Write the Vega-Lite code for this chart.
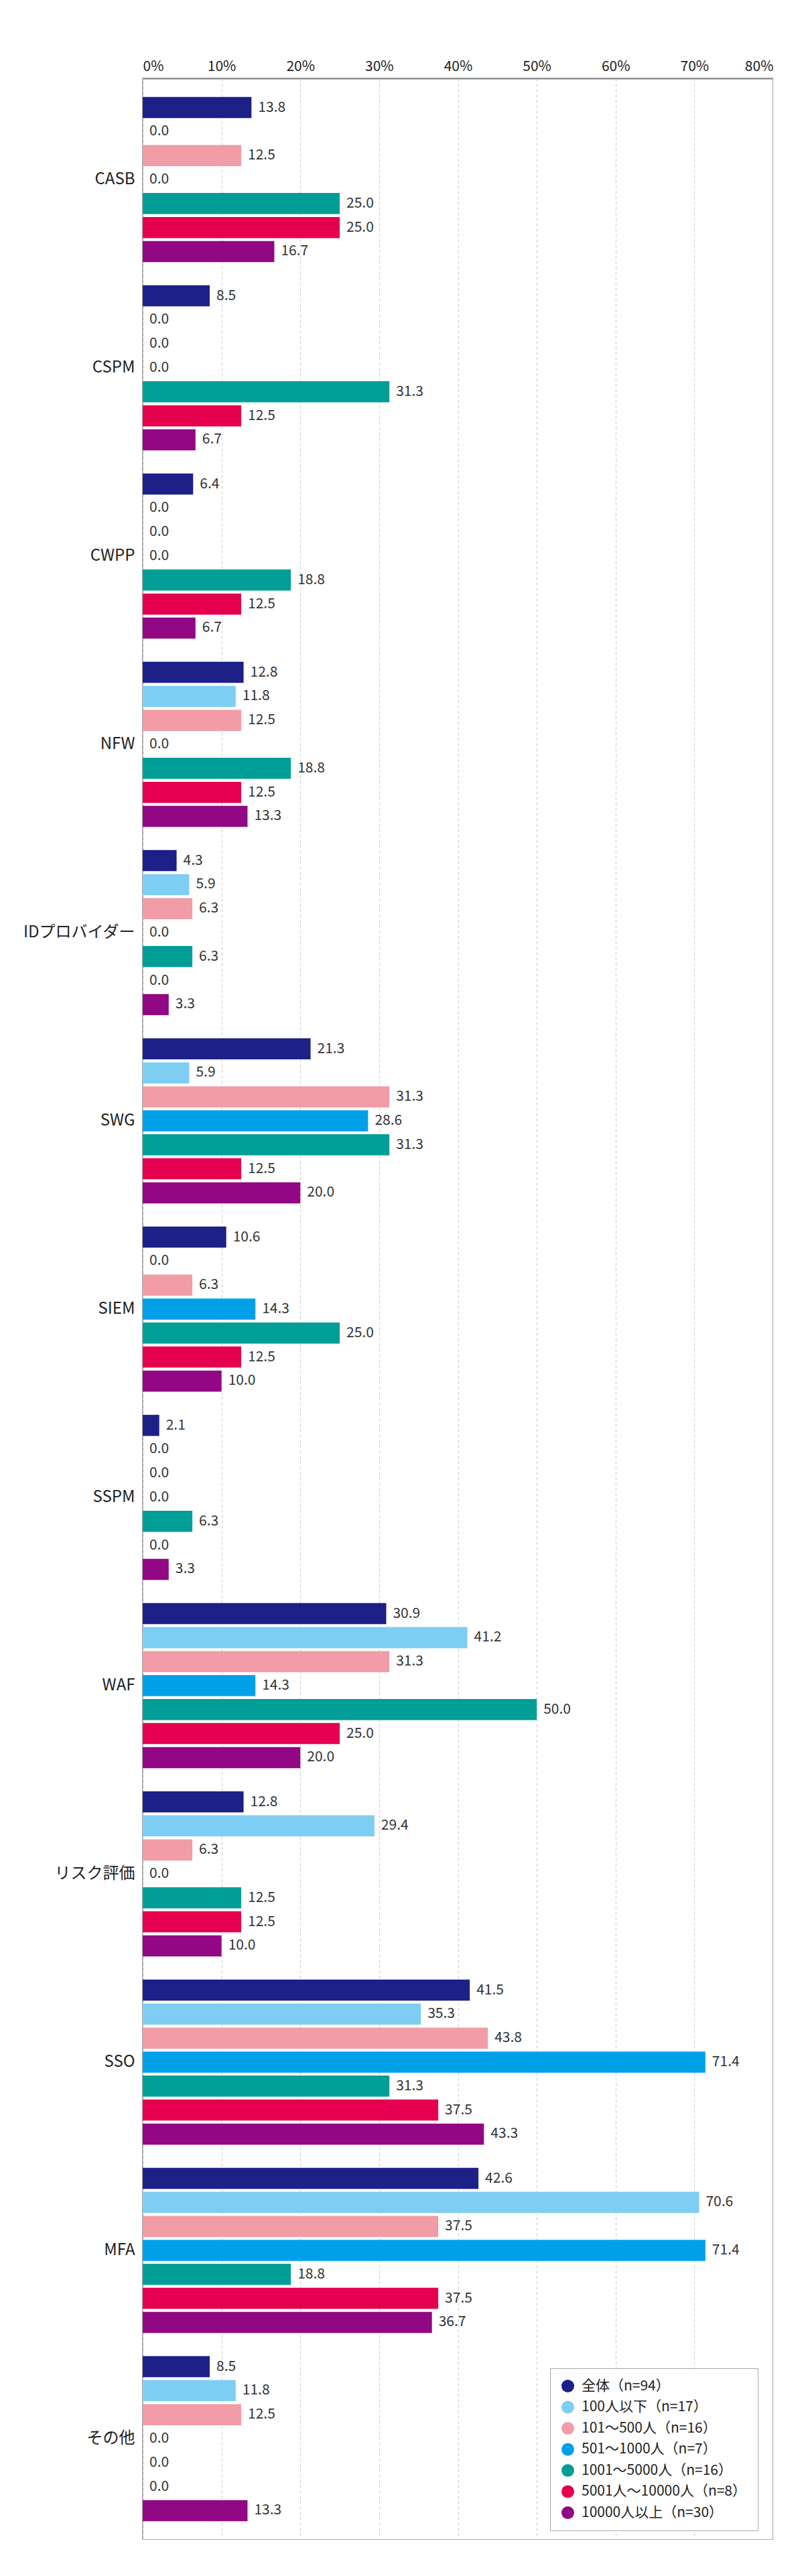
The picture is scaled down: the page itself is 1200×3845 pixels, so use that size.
{
  "$schema": "https://vega.github.io/schema/vega-lite/v6.json",
  "background": "white",
  "autosize": {"type": "none"},
  "padding": {"left": 213, "top": 117, "right": 0, "bottom": 0},
  "width": 941,
  "height": 3674,
  "config": {
    "font": "Noto Sans CJK JP",
    "view": {"stroke": "#8a8a8a", "strokeWidth": 1.5}
  },
  "data": {"values": [
    {"item": "CASB", "group": "全体（n=94）", "pct": 13.8},
    {"item": "CASB", "group": "100人以下（n=17）", "pct": 0.0},
    {"item": "CASB", "group": "101～500人（n=16）", "pct": 12.5},
    {"item": "CASB", "group": "501～1000人（n=7）", "pct": 0.0},
    {"item": "CASB", "group": "1001～5000人（n=16）", "pct": 25.0},
    {"item": "CASB", "group": "5001人～10000人（n=8）", "pct": 25.0},
    {"item": "CASB", "group": "10000人以上（n=30）", "pct": 16.7},
    {"item": "CSPM", "group": "全体（n=94）", "pct": 8.5},
    {"item": "CSPM", "group": "100人以下（n=17）", "pct": 0.0},
    {"item": "CSPM", "group": "101～500人（n=16）", "pct": 0.0},
    {"item": "CSPM", "group": "501～1000人（n=7）", "pct": 0.0},
    {"item": "CSPM", "group": "1001～5000人（n=16）", "pct": 31.3},
    {"item": "CSPM", "group": "5001人～10000人（n=8）", "pct": 12.5},
    {"item": "CSPM", "group": "10000人以上（n=30）", "pct": 6.7},
    {"item": "CWPP", "group": "全体（n=94）", "pct": 6.4},
    {"item": "CWPP", "group": "100人以下（n=17）", "pct": 0.0},
    {"item": "CWPP", "group": "101～500人（n=16）", "pct": 0.0},
    {"item": "CWPP", "group": "501～1000人（n=7）", "pct": 0.0},
    {"item": "CWPP", "group": "1001～5000人（n=16）", "pct": 18.8},
    {"item": "CWPP", "group": "5001人～10000人（n=8）", "pct": 12.5},
    {"item": "CWPP", "group": "10000人以上（n=30）", "pct": 6.7},
    {"item": "NFW", "group": "全体（n=94）", "pct": 12.8},
    {"item": "NFW", "group": "100人以下（n=17）", "pct": 11.8},
    {"item": "NFW", "group": "101～500人（n=16）", "pct": 12.5},
    {"item": "NFW", "group": "501～1000人（n=7）", "pct": 0.0},
    {"item": "NFW", "group": "1001～5000人（n=16）", "pct": 18.8},
    {"item": "NFW", "group": "5001人～10000人（n=8）", "pct": 12.5},
    {"item": "NFW", "group": "10000人以上（n=30）", "pct": 13.3},
    {"item": "IDプロバイダー", "group": "全体（n=94）", "pct": 4.3},
    {"item": "IDプロバイダー", "group": "100人以下（n=17）", "pct": 5.9},
    {"item": "IDプロバイダー", "group": "101～500人（n=16）", "pct": 6.3},
    {"item": "IDプロバイダー", "group": "501～1000人（n=7）", "pct": 0.0},
    {"item": "IDプロバイダー", "group": "1001～5000人（n=16）", "pct": 6.3},
    {"item": "IDプロバイダー", "group": "5001人～10000人（n=8）", "pct": 0.0},
    {"item": "IDプロバイダー", "group": "10000人以上（n=30）", "pct": 3.3},
    {"item": "SWG", "group": "全体（n=94）", "pct": 21.3},
    {"item": "SWG", "group": "100人以下（n=17）", "pct": 5.9},
    {"item": "SWG", "group": "101～500人（n=16）", "pct": 31.3},
    {"item": "SWG", "group": "501～1000人（n=7）", "pct": 28.6},
    {"item": "SWG", "group": "1001～5000人（n=16）", "pct": 31.3},
    {"item": "SWG", "group": "5001人～10000人（n=8）", "pct": 12.5},
    {"item": "SWG", "group": "10000人以上（n=30）", "pct": 20.0},
    {"item": "SIEM", "group": "全体（n=94）", "pct": 10.6},
    {"item": "SIEM", "group": "100人以下（n=17）", "pct": 0.0},
    {"item": "SIEM", "group": "101～500人（n=16）", "pct": 6.3},
    {"item": "SIEM", "group": "501～1000人（n=7）", "pct": 14.3},
    {"item": "SIEM", "group": "1001～5000人（n=16）", "pct": 25.0},
    {"item": "SIEM", "group": "5001人～10000人（n=8）", "pct": 12.5},
    {"item": "SIEM", "group": "10000人以上（n=30）", "pct": 10.0},
    {"item": "SSPM", "group": "全体（n=94）", "pct": 2.1},
    {"item": "SSPM", "group": "100人以下（n=17）", "pct": 0.0},
    {"item": "SSPM", "group": "101～500人（n=16）", "pct": 0.0},
    {"item": "SSPM", "group": "501～1000人（n=7）", "pct": 0.0},
    {"item": "SSPM", "group": "1001～5000人（n=16）", "pct": 6.3},
    {"item": "SSPM", "group": "5001人～10000人（n=8）", "pct": 0.0},
    {"item": "SSPM", "group": "10000人以上（n=30）", "pct": 3.3},
    {"item": "WAF", "group": "全体（n=94）", "pct": 30.9},
    {"item": "WAF", "group": "100人以下（n=17）", "pct": 41.2},
    {"item": "WAF", "group": "101～500人（n=16）", "pct": 31.3},
    {"item": "WAF", "group": "501～1000人（n=7）", "pct": 14.3},
    {"item": "WAF", "group": "1001～5000人（n=16）", "pct": 50.0},
    {"item": "WAF", "group": "5001人～10000人（n=8）", "pct": 25.0},
    {"item": "WAF", "group": "10000人以上（n=30）", "pct": 20.0},
    {"item": "リスク評価", "group": "全体（n=94）", "pct": 12.8},
    {"item": "リスク評価", "group": "100人以下（n=17）", "pct": 29.4},
    {"item": "リスク評価", "group": "101～500人（n=16）", "pct": 6.3},
    {"item": "リスク評価", "group": "501～1000人（n=7）", "pct": 0.0},
    {"item": "リスク評価", "group": "1001～5000人（n=16）", "pct": 12.5},
    {"item": "リスク評価", "group": "5001人～10000人（n=8）", "pct": 12.5},
    {"item": "リスク評価", "group": "10000人以上（n=30）", "pct": 10.0},
    {"item": "SSO", "group": "全体（n=94）", "pct": 41.5},
    {"item": "SSO", "group": "100人以下（n=17）", "pct": 35.3},
    {"item": "SSO", "group": "101～500人（n=16）", "pct": 43.8},
    {"item": "SSO", "group": "501～1000人（n=7）", "pct": 71.4},
    {"item": "SSO", "group": "1001～5000人（n=16）", "pct": 31.3},
    {"item": "SSO", "group": "5001人～10000人（n=8）", "pct": 37.5},
    {"item": "SSO", "group": "10000人以上（n=30）", "pct": 43.3},
    {"item": "MFA", "group": "全体（n=94）", "pct": 42.6},
    {"item": "MFA", "group": "100人以下（n=17）", "pct": 70.6},
    {"item": "MFA", "group": "101～500人（n=16）", "pct": 37.5},
    {"item": "MFA", "group": "501～1000人（n=7）", "pct": 71.4},
    {"item": "MFA", "group": "1001～5000人（n=16）", "pct": 18.8},
    {"item": "MFA", "group": "5001人～10000人（n=8）", "pct": 37.5},
    {"item": "MFA", "group": "10000人以上（n=30）", "pct": 36.7},
    {"item": "その他", "group": "全体（n=94）", "pct": 8.5},
    {"item": "その他", "group": "100人以下（n=17）", "pct": 11.8},
    {"item": "その他", "group": "101～500人（n=16）", "pct": 12.5},
    {"item": "その他", "group": "501～1000人（n=7）", "pct": 0.0},
    {"item": "その他", "group": "1001～5000人（n=16）", "pct": 0.0},
    {"item": "その他", "group": "5001人～10000人（n=8）", "pct": 0.0},
    {"item": "その他", "group": "10000人以上（n=30）", "pct": 13.3}
  ]},
  "encoding": {
    "y": {"field": "item", "type": "nominal", "sort": null,
          "scale": {"paddingInner": 0.108, "paddingOuter": 0.0915},
          "axis": {"title": null, "ticks": false, "domain": false,
                   "labelFontSize": 24, "labelFontWeight": 400, "labelColor": "#222", "labelPadding": 12}},
    "yOffset": {"field": "group", "type": "nominal",
                "sort": ["全体（n=94）", "100人以下（n=17）", "101～500人（n=16）", "501～1000人（n=7）", "1001～5000人（n=16）", "5001人～10000人（n=8）", "10000人以上（n=30）"],
                "scale": {"paddingInner": 0.12, "paddingOuter": 0.06}},
    "x": {"field": "pct", "type": "quantitative",
          "scale": {"domain": [0, 80], "nice": false},
          "axis": {"orient": "top", "title": null, "values": [0, 10, 20, 30, 40, 50, 60, 70, 80],
                   "labelExpr": "datum.value + '%'", "ticks": false,
                   "labelFontSize": 21, "labelFontWeight": 400, "labelColor": "#222", "labelPadding": 8,
                   "domainColor": "#8a8a8a", "domainWidth": 2,
                   "grid": true, "gridColor": "#c8c8c8", "gridDash": [4, 4], "gridWidth": 1}}
  },
  "layer": [
    {
      "mark": {"type": "bar"},
      "encoding": {
        "color": {"field": "group", "type": "nominal",
                  "scale": {
                    "domain": ["全体（n=94）", "100人以下（n=17）", "101～500人（n=16）", "501～1000人（n=7）", "1001～5000人（n=16）", "5001人～10000人（n=8）", "10000人以上（n=30）"],
                    "range": ["#1d2087", "#7ecef4", "#f19ca7", "#00a0e9", "#009e96", "#e4004f", "#920783"]},
                  "legend": {"title": null, "orient": "none", "legendX": 608, "legendY": 3418,
                             "symbolType": "circle", "symbolSize": 361, "symbolStrokeWidth": 0, "symbolOpacity": 1,
                             "labelFontSize": 21, "labelFontWeight": 400, "labelColor": "#222", "labelLimit": 400, "labelOffset": 10,
                             "rowPadding": 9.5, "padding": 16,
                             "strokeColor": "#a8a8a8", "fillColor": "white"}}
      }
    },
    {
      "mark": {"type": "text", "align": "left", "baseline": "middle", "dx": 10, "fontSize": 21, "fontWeight": 400, "color": "#333"},
      "encoding": {"text": {"field": "pct", "type": "quantitative", "format": ".1f"}}
    }
  ]
}
